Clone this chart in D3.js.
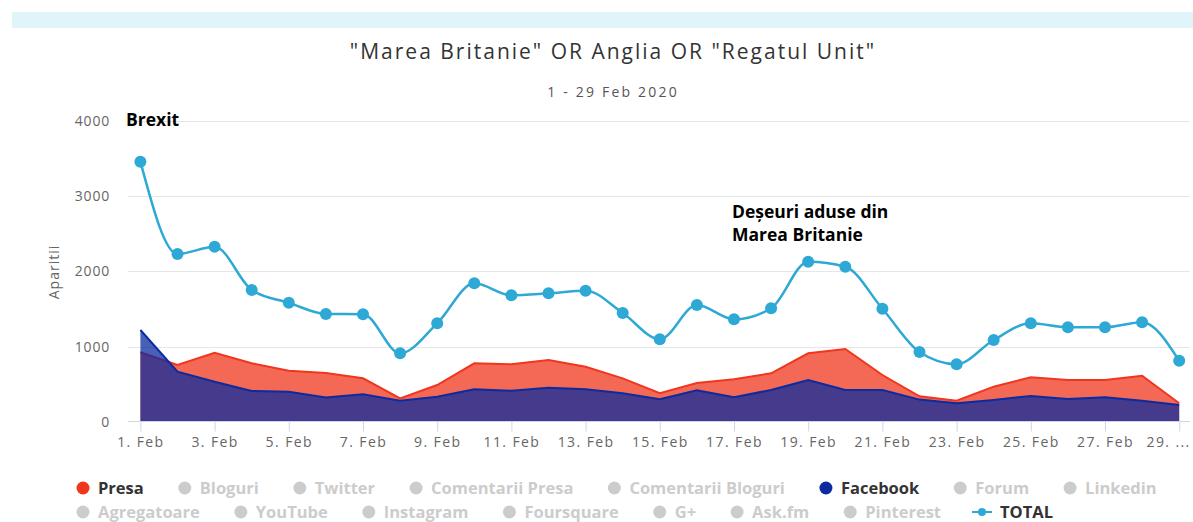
<!DOCTYPE html>
<html>
<head>
<meta charset="utf-8">
<script src="https://cdn.jsdelivr.net/npm/d3@7"></script>
<style>
  html, body { margin: 0; padding: 0; background: #fff; }
  svg { display: block; font-family: "Open Sans", sans-serif; }
</style>
</head>
<body>
<svg id="chart" width="1193" height="522"></svg>
<script>
// ---- data ----
const days = d3.range(1, 30);
const totalValues = [3459, 2231, 2328, 1752, 1583, 1433, 1429, 910, 1309, 1841, 1682, 1708, 1743, 1446, 1096, 1552, 1362, 1509, 2129, 2062, 1503, 927, 764, 1087, 1309, 1256, 1256, 1322, 811];
const presaValues = [923, 754, 918, 777, 679, 648, 577, 311, 488, 777, 763, 821, 732, 577, 378, 515, 564, 644, 910, 967, 621, 338, 279, 466, 591, 555, 555, 612, 245];
const facebookValues = [1220, 665, 532, 408, 399, 322, 364, 279, 333, 431, 412, 452, 431, 378, 300, 417, 324, 422, 555, 422, 422, 294, 245, 289, 342, 302, 324, 279, 222];
const yTicks = [0, 1000, 2000, 3000, 4000];
const xTickDays = [1, 3, 5, 7, 9, 11, 13, 15, 17, 19, 21, 23, 25, 27, 29];
const xTickLabels = ["1. Feb", "3. Feb", "5. Feb", "7. Feb", "9. Feb", "11. Feb", "13. Feb", "15. Feb", "17. Feb", "19. Feb", "21. Feb", "23. Feb", "25. Feb", "27. Feb", "29. ..."];
const legendRow1 = ["Presa", "Bloguri", "Twitter", "Comentarii Presa", "Comentarii Bloguri", "Facebook", "Forum", "Linkedin"];
const legendRow2 = ["Agregatoare", "YouTube", "Instagram", "Foursquare", "G+", "Ask.fm", "Pinterest", "TOTAL"];
const titleText = "\"Marea Britanie\" OR Anglia OR \"Regatul Unit\"";
const subtitleText = "1 - 29 Feb 2020";
const yAxisTitle = "Aparitii";
const annotationBrexit = ["Brexit"];
const annotationDeseuri = ["Deșeuri aduse din", "Marea Britanie"];

// ---- styles ----
const RED = "#f0361d", BLUE = "#0b2b9f", TOTAL_C = "#2ea9d5";

const svg = d3.select("#chart");

// top band
svg.append("rect").attr("x", 12).attr("y", 12).attr("width", 1181).attr("height", 16).attr("fill", "#dff5fa");

// titles
svg.append("text").attr("x", 613).attr("y", 59).attr("text-anchor", "middle")
  .attr("font-size", 21).attr("letter-spacing", 2.0).attr("fill", "#333").text(titleText);
svg.append("text").attr("x", 613).attr("y", 97).attr("text-anchor", "middle")
  .attr("font-size", 14).attr("letter-spacing", 2.2).attr("fill", "#555").text(subtitleText);

// scales
const x = d3.scaleLinear().domain([1, 29]).range([140.4, 1179.2]);
const y = d3.scaleLinear().domain([0, 4000]).range([421.7, 121]);

// gridlines
const grid = svg.append("g");
grid.selectAll("line").data(yTicks.filter(d => d > 0)).join("line")
  .attr("x1", 128).attr("x2", 1190)
  .attr("y1", d => Math.round(y(d)) + 0.5).attr("y2", d => Math.round(y(d)) + 0.5)
  .attr("stroke", "#e6e6e6").attr("stroke-width", 1);

// y axis labels
const yAxis = d3.axisLeft(y).tickValues(yTicks).tickSize(0).tickPadding(0).tickFormat(d3.format("d"));
const yg = svg.append("g").attr("transform", "translate(110,0)").call(yAxis);
yg.select(".domain").remove();
yg.selectAll("text").attr("font-size", 14).attr("letter-spacing", 0.8).attr("fill", "#666")
  .attr("font-family", "'Open Sans', sans-serif").attr("dy", "0.32em");

// y axis title
svg.append("text").attr("transform", "translate(59,272) rotate(-90)").attr("text-anchor", "middle")
  .attr("font-size", 14).attr("letter-spacing", 1.0).attr("fill", "#666").text(yAxisTitle);

// areas
const area = vals => d3.area().x((d, i) => x(days[i])).y0(y(0)).y1(d => y(d))(vals);
const line = (vals, curve) => d3.line().x((d, i) => x(days[i])).y(d => y(d)).curve(curve || d3.curveLinear)(vals);

svg.append("path").attr("d", area(presaValues)).attr("fill", RED).attr("fill-opacity", 0.75);
svg.append("path").attr("d", line(presaValues)).attr("fill", "none").attr("stroke", RED).attr("stroke-width", 2);
svg.append("path").attr("d", area(facebookValues)).attr("fill", BLUE).attr("fill-opacity", 0.75);
svg.append("path").attr("d", line(facebookValues)).attr("fill", "none").attr("stroke", BLUE).attr("stroke-width", 2);

// x axis
const xAxis = d3.axisBottom(x).tickValues(xTickDays).tickSize(10).tickPadding(6)
  .tickFormat((d, i) => xTickLabels[i]);
const xg = svg.append("g").attr("transform", "translate(0,421.5)").call(xAxis);
xg.select(".domain").remove();
xg.selectAll(".tick line").attr("stroke", "#ccd6eb");
xg.selectAll("text").attr("font-size", 14).attr("letter-spacing", 1.4).attr("fill", "#666")
  .attr("font-family", "'Open Sans', sans-serif");
xg.selectAll(".tick").filter((d, i) => i === xTickDays.length - 1).select("text")
  .attr("text-anchor", "end").attr("dx", 11);
svg.append("line").attr("x1", 128).attr("x2", 1190).attr("y1", 421.5).attr("y2", 421.5)
  .attr("stroke", "#ccd6eb").attr("stroke-width", 1);

// total
svg.append("path").attr("d", line(totalValues, d3.curveMonotoneX)).attr("fill", "none")
  .attr("stroke", TOTAL_C).attr("stroke-width", 2.5);
svg.append("g").selectAll("circle").data(totalValues).join("circle")
  .attr("cx", (d, i) => x(days[i])).attr("cy", d => y(d)).attr("r", 6).attr("fill", TOTAL_C);

// annotations
const ann = svg.append("g").attr("font-family", "'Open Sans', sans-serif").attr("font-weight", 700)
  .attr("font-size", 17.5).attr("fill", "#000");
ann.append("text").attr("x", 126).attr("y", 126).text(annotationBrexit[0]);
ann.append("text").attr("x", 732).attr("y", 218).text(annotationDeseuri[0]);
ann.append("text").attr("x", 732).attr("y", 241).text(annotationDeseuri[1]);

// legend
const active = { "Presa": RED, "Facebook": BLUE };
function legendRow(items, yPos) {
  let cx = 83;
  const g = svg.append("g");
  items.forEach(name => {
    const isTotal = name === "TOTAL";
    const col = isTotal ? TOTAL_C : (active[name] || "#cccccc");
    if (isTotal) {
      g.append("line").attr("x1", cx - 10).attr("x2", cx + 10).attr("y1", yPos).attr("y2", yPos)
        .attr("stroke", TOTAL_C).attr("stroke-width", 2);
      g.append("circle").attr("cx", cx).attr("cy", yPos).attr("r", 4).attr("fill", TOTAL_C);
    } else {
      g.append("circle").attr("cx", cx).attr("cy", yPos).attr("r", 6.5).attr("fill", col);
    }
    const t = g.append("text").attr("x", cx + (isTotal ? 18 : 15)).attr("y", yPos + 5.5)
      .attr("font-size", 16.5).attr("font-weight", 700)
      .attr("fill", (active[name] || isTotal) ? "#333" : "#cccccc").text(name);
    cx = cx + (isTotal ? 18 : 15) + t.node().getComputedTextLength() + 41;
  });
}
legendRow(legendRow1, 488);
legendRow(legendRow2, 512);
</script>
</body>
</html>
